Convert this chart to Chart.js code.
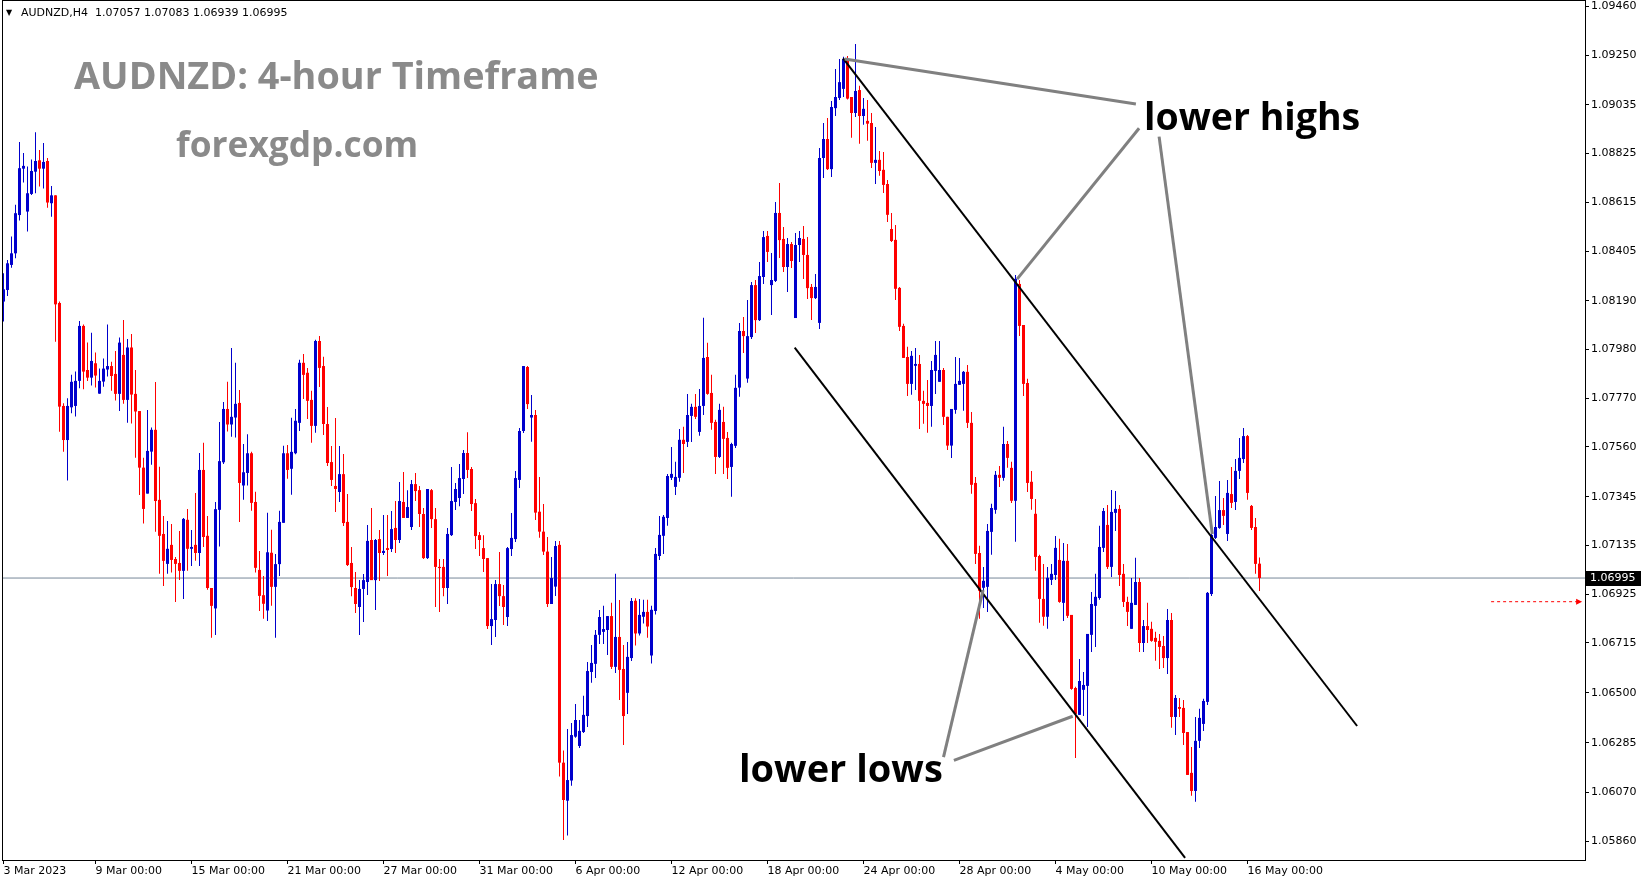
<!DOCTYPE html>
<html>
<head>
<meta charset="utf-8">
<script src="https://cdn.jsdelivr.net/npm/chart.js@4.4.0/dist/chart.umd.min.js"></script>
<style>
  html, body { margin: 0; padding: 0; background: #fff; }
</style>
</head>
<body>
<canvas id="priceChart" width="1649" height="884"></canvas>
<script>
// AUDNZD H4 candles (3 Mar 2023 .. 16 May 2023)
const opens = [
  1.08187,1.08237,1.08345,1.08395,1.08560,1.08760,1.08575,1.08651,1.08747,1.08796,
  1.08760,1.08793,1.08611,1.08645,1.08181,1.07737,1.07590,1.07731,1.07737,1.07845,
  1.08082,1.07892,1.07859,1.07921,1.07790,1.07842,1.07894,1.07909,1.07875,1.07789,
  1.07957,1.07763,1.07989,1.07789,1.07715,1.07471,1.07359,1.07540,1.07634,1.07332,
  1.07185,1.07056,1.07138,1.07077,1.07060,1.07026,1.07246,1.07121,1.07138,1.07103,
  1.07461,1.07177,1.06952,1.06864,1.07289,1.07494,1.07724,1.07657,1.07687,1.07750,
  1.07394,1.07448,1.07533,1.07323,1.07030,1.06921,1.06855,1.07104,1.06957,1.07055,
  1.07233,1.07533,1.07466,1.07533,1.07664,1.07923,1.07880,1.07763,1.07651,1.08017,
  1.07909,1.07659,1.07495,1.07392,1.07366,1.07443,1.07237,1.07060,1.06952,1.06870,
  1.06948,1.06978,1.07159,1.06986,1.07163,1.07103,1.07124,1.07120,1.07211,1.07159,
  1.07323,1.07254,1.07215,1.07400,1.07374,1.07271,1.07081,1.07374,1.07249,1.07043,
  1.07043,1.06952,1.07180,1.07323,1.07340,1.07422,1.07534,1.07465,1.07318,1.07180,
  1.07124,1.07081,1.06788,1.06814,1.06969,1.06917,1.06827,1.07120,1.07163,1.07418,
  1.07629,1.07905,1.07687,1.07698,1.07281,1.07195,1.07109,1.06883,1.06958,1.07138,
  1.06199,1.06035,1.06122,1.06311,1.06271,1.06331,1.06400,1.06590,1.06625,1.06750,
  1.06763,1.06771,1.06831,1.06612,1.06741,1.06603,1.06500,1.06650,1.06897,1.06756,
  1.06828,1.06849,1.06661,1.06853,1.07090,1.07177,1.07254,1.07427,1.07388,1.07427,
  1.07591,1.07582,1.07694,1.07733,1.07625,1.07737,1.07948,1.07793,1.07668,1.07517,
  1.07668,1.07599,1.07474,1.07565,1.07816,1.08060,1.07855,1.08034,1.08258,1.08107,
  1.08293,1.08470,1.08258,1.08276,1.08569,1.08457,1.08336,1.08435,1.08116,1.08431,
  1.08457,1.08388,1.08250,1.08202,1.08095,1.08806,1.08888,1.08758,1.09021,1.09065,
  1.09104,1.09229,1.09069,1.09000,1.09099,1.08987,1.08966,1.08957,1.08785,1.08798,
  1.08755,1.08694,1.08500,1.08453,1.08246,1.08082,1.07948,1.07832,1.07910,1.07918,
  1.07759,1.07750,1.07737,1.07888,1.07841,1.07892,1.07690,1.07566,1.07720,1.07828,
  1.07832,1.07884,1.07664,1.07405,1.07103,1.06953,1.06957,1.07194,1.07289,1.07440,
  1.07427,1.07573,1.07470,1.07328,1.08263,1.08086,1.07836,1.07410,1.07272,1.07090,
  1.06905,1.06828,1.06987,1.07008,1.07073,1.06888,1.07069,1.06836,1.06521,1.06405,
  1.06513,1.06530,1.06750,1.06875,1.06909,1.07125,1.07224,1.07043,1.07276,1.07293,
  1.07013,1.06892,1.06776,1.06879,1.06978,1.06715,1.06788,1.06776,1.06737,1.06724,
  1.06702,1.06650,1.06814,1.06396,1.06439,1.06435,1.06331,1.06155,1.06077,1.06293,
  1.06366,1.06461,1.06926,1.07168,1.07211,1.07288,1.07185,1.07357,1.07323,1.07457,
  1.07508,1.07607,1.07306,1.07215,1.07057
];
const highs = [
  1.08309,1.08366,1.08467,1.08604,1.08875,1.08828,1.08769,1.08800,1.08917,1.08841,
  1.08871,1.08806,1.08685,1.08645,1.08187,1.07749,1.07770,1.07871,1.07885,1.08103,
  1.08088,1.08010,1.08053,1.07967,1.07898,1.07941,1.08088,1.07927,1.07974,1.08032,
  1.08108,1.08026,1.08047,1.07892,1.07715,1.07514,1.07720,1.07644,1.07840,1.07475,
  1.07263,1.07241,1.07228,1.07086,1.07198,1.07254,1.07293,1.07202,1.07362,1.07534,
  1.07578,1.07263,1.06952,1.07323,1.07668,1.07754,1.07841,1.07987,1.07923,1.07806,
  1.07573,1.07615,1.07539,1.07367,1.07112,1.07004,1.07276,1.07203,1.07099,1.07285,
  1.07565,1.07569,1.07686,1.07724,1.07936,1.07961,1.07901,1.07802,1.08022,1.08039,
  1.07949,1.07732,1.07564,1.07685,1.07564,1.07530,1.07357,1.07129,1.07021,1.06986,
  1.07012,1.07224,1.07297,1.07163,1.07202,1.07267,1.07267,1.07284,1.07327,1.07409,
  1.07452,1.07374,1.07418,1.07448,1.07392,1.07297,1.07379,1.07379,1.07297,1.07077,
  1.07077,1.07211,1.07474,1.07405,1.07487,1.07547,1.07624,1.07474,1.07336,1.07193,
  1.07180,1.07081,1.06969,1.06986,1.07107,1.06965,1.07129,1.07275,1.07456,1.07642,
  1.07909,1.07909,1.07784,1.07720,1.07431,1.07314,1.07172,1.07086,1.07155,1.07155,
  1.06251,1.06344,1.06370,1.06452,1.06383,1.06487,1.06633,1.06706,1.06771,1.06857,
  1.06875,1.06831,1.06888,1.07013,1.06900,1.06706,1.06719,1.06909,1.06908,1.06905,
  1.06901,1.06901,1.06875,1.07125,1.07263,1.07267,1.07444,1.07560,1.07496,1.07638,
  1.07647,1.07789,1.07746,1.07789,1.07810,1.08117,1.08009,1.07871,1.07677,1.07746,
  1.07733,1.07625,1.07578,1.07871,1.08095,1.08120,1.08194,1.08271,1.08280,1.08358,
  1.08491,1.08491,1.08396,1.08616,1.08698,1.08508,1.08461,1.08444,1.08483,1.08491,
  1.08513,1.08465,1.08263,1.08306,1.08849,1.08957,1.08978,1.09052,1.09190,1.09233,
  1.09242,1.09246,1.09069,1.09298,1.09117,1.09065,1.09056,1.09000,1.08940,1.08836,
  1.08832,1.08711,1.08569,1.08517,1.08250,1.08091,1.07992,1.07974,1.07987,1.07957,
  1.07802,1.07849,1.07931,1.08017,1.08017,1.07901,1.07690,1.07724,1.07948,1.07944,
  1.07888,1.07914,1.07711,1.07431,1.07134,1.07043,1.07228,1.07315,1.07457,1.07478,
  1.07647,1.07586,1.07496,1.08302,1.08280,1.08086,1.07854,1.07457,1.07336,1.07095,
  1.07056,1.07043,1.07056,1.07176,1.07164,1.07146,1.07142,1.06836,1.06526,1.06646,
  1.06590,1.06754,1.06935,1.07013,1.07220,1.07297,1.07310,1.07375,1.07370,1.07310,
  1.07056,1.06914,1.06995,1.07082,1.06995,1.06814,1.06888,1.06806,1.06763,1.06754,
  1.06745,1.06862,1.06844,1.06491,1.06478,1.06469,1.06331,1.06267,1.06396,1.06431,
  1.06474,1.06935,1.07219,1.07349,1.07413,1.07340,1.07418,1.07474,1.07508,1.07599,
  1.07642,1.07612,1.07310,1.07254,1.07083
];
const lows = [
  1.08101,1.08211,1.08333,1.08374,1.08536,1.08700,1.08489,1.08647,1.08654,1.08683,
  1.08674,1.08592,1.08553,1.08014,1.07626,1.07540,1.07415,1.07705,1.07691,1.07813,
  1.07809,1.07845,1.07825,1.07816,1.07790,1.07820,1.07864,1.07803,1.07760,1.07715,
  1.07746,1.07664,1.07661,1.07514,1.07353,1.07230,1.07359,1.07483,1.07195,1.07013,
  1.06961,1.07013,1.07019,1.06892,1.06987,1.06905,1.07026,1.07047,1.07069,1.07047,
  1.07129,1.06944,1.06737,1.06749,1.07131,1.07487,1.07627,1.07604,1.07601,1.07237,
  1.07332,1.07394,1.07285,1.07019,1.06853,1.06819,1.06810,1.06875,1.06737,1.07004,
  1.07233,1.07423,1.07354,1.07529,1.07629,1.07767,1.07681,1.07578,1.07621,1.07819,
  1.07612,1.07478,1.07392,1.07280,1.07323,1.07219,1.07047,1.06917,1.06844,1.06749,
  1.06805,1.06922,1.06986,1.06857,1.06982,1.07094,1.07004,1.07107,1.07103,1.07146,
  1.07254,1.07254,1.07202,1.07327,1.07215,1.07077,1.07077,1.07211,1.06870,1.06849,
  1.06917,1.06883,1.07176,1.07288,1.07305,1.07357,1.07426,1.07284,1.07120,1.07090,
  1.07021,1.06775,1.06706,1.06741,1.06874,1.06792,1.06788,1.07090,1.07150,1.07383,
  1.07620,1.07724,1.07583,1.07245,1.07169,1.07094,1.06870,1.06883,1.06918,1.06139,
  1.05866,1.05885,1.06099,1.06306,1.06262,1.06327,1.06353,1.06543,1.06564,1.06711,
  1.06711,1.06663,1.06603,1.06586,1.06469,1.06275,1.06409,1.06637,1.06704,1.06747,
  1.06799,1.06738,1.06626,1.06838,1.07073,1.07099,1.07220,1.07418,1.07353,1.07410,
  1.07448,1.07560,1.07582,1.07681,1.07608,1.07698,1.07785,1.07634,1.07444,1.07513,
  1.07444,1.07422,1.07345,1.07556,1.07777,1.07965,1.07837,1.08026,1.08051,1.08103,
  1.08263,1.08358,1.08129,1.08271,1.08375,1.08314,1.08228,1.08332,1.08116,1.08358,
  1.08284,1.08198,1.08107,1.08198,1.08069,1.08720,1.08754,1.08724,1.08987,1.09056,
  1.09069,1.09058,1.08893,1.08983,1.08867,1.08949,1.08880,1.08763,1.08694,1.08729,
  1.08655,1.08530,1.08444,1.08194,1.08060,1.07944,1.07780,1.07785,1.07806,1.07638,
  1.07660,1.07621,1.07647,1.07789,1.07841,1.07655,1.07547,1.07512,1.07703,1.07828,
  1.07716,1.07642,1.07358,1.07056,1.06819,1.06866,1.06849,1.07095,1.07272,1.07388,
  1.07414,1.07470,1.07319,1.07151,1.08039,1.07780,1.07366,1.07289,1.07026,1.06802,
  1.06789,1.06776,1.06965,1.06987,1.06888,1.06810,1.06823,1.06513,1.06219,1.06405,
  1.06400,1.06353,1.06676,1.06698,1.06901,1.07107,1.07034,1.07000,1.07198,1.06961,
  1.06870,1.06788,1.06776,1.06879,1.06676,1.06676,1.06715,1.06720,1.06638,1.06603,
  1.06607,1.06581,1.06349,1.06318,1.06396,1.06275,1.06146,1.06056,1.06030,1.06262,
  1.06336,1.06448,1.06918,1.07163,1.07207,1.07224,1.07155,1.07297,1.07288,1.07422,
  1.07491,1.07332,1.07202,1.07013,1.06939
];
const closes = [
  1.08240,1.08352,1.08395,1.08568,1.08762,1.08772,1.08654,1.08750,1.08793,1.08760,
  1.08789,1.08614,1.08645,1.08175,1.07734,1.07590,1.07737,1.07841,1.07845,1.08082,
  1.07885,1.07859,1.07931,1.07868,1.07845,1.07898,1.07909,1.07866,1.07789,1.08010,
  1.07763,1.07989,1.07786,1.07713,1.07471,1.07293,1.07543,1.07634,1.07327,1.07177,
  1.07069,1.07121,1.07073,1.07056,1.07026,1.07250,1.07121,1.07129,1.07103,1.07461,
  1.07172,1.06952,1.06875,1.07292,1.07499,1.07724,1.07657,1.07690,1.07746,1.07405,
  1.07451,1.07533,1.07319,1.07039,1.06918,1.06884,1.07106,1.06957,1.07055,1.07237,
  1.07533,1.07461,1.07539,1.07673,1.07923,1.07871,1.07759,1.07651,1.08017,1.07901,
  1.07659,1.07491,1.07418,1.07379,1.07443,1.07232,1.07051,1.06956,1.06883,1.06948,
  1.06986,1.07155,1.06986,1.07159,1.07103,1.07112,1.07116,1.07206,1.07159,1.07327,
  1.07254,1.07301,1.07400,1.07370,1.07271,1.07081,1.07379,1.07249,1.07043,1.07038,
  1.06952,1.07185,1.07327,1.07379,1.07426,1.07534,1.07461,1.07314,1.07176,1.07159,
  1.07077,1.06788,1.06818,1.06969,1.06917,1.06870,1.07124,1.07168,1.07426,1.07629,
  1.07909,1.07745,1.07698,1.07277,1.07195,1.07109,1.06883,1.06995,1.07133,1.06199,
  1.06038,1.06124,1.06318,1.06383,1.06336,1.06405,1.06594,1.06629,1.06750,1.06827,
  1.06775,1.06831,1.06612,1.06741,1.06599,1.06400,1.06655,1.06896,1.06756,1.06836,
  1.06849,1.06786,1.06858,1.07099,1.07181,1.07259,1.07435,1.07444,1.07431,1.07591,
  1.07573,1.07698,1.07733,1.07690,1.07737,1.07944,1.07789,1.07664,1.07517,1.07720,
  1.07595,1.07470,1.07573,1.07815,1.08060,1.08038,1.08038,1.08258,1.08107,1.08297,
  1.08465,1.08401,1.08280,1.08569,1.08452,1.08336,1.08435,1.08362,1.08431,1.08461,
  1.08388,1.08245,1.08202,1.08250,1.08806,1.08888,1.08758,1.09026,1.09069,1.09133,
  1.09233,1.09062,1.09000,1.09095,1.08987,1.09018,1.08954,1.08785,1.08798,1.08750,
  1.08690,1.08561,1.08448,1.08242,1.08078,1.07944,1.07832,1.07953,1.07918,1.07759,
  1.07746,1.07737,1.07892,1.07957,1.07892,1.07690,1.07566,1.07724,1.07832,1.07845,
  1.07884,1.07664,1.07397,1.07099,1.06940,1.06983,1.07198,1.07297,1.07440,1.07427,
  1.07573,1.07513,1.07328,1.08285,1.08082,1.07832,1.07405,1.07336,1.07086,1.06905,
  1.06828,1.06996,1.07013,1.07125,1.06892,1.07069,1.06832,1.06517,1.06409,1.06551,
  1.06534,1.06754,1.06883,1.06914,1.07129,1.07284,1.07043,1.07280,1.07293,1.07008,
  1.06892,1.06849,1.06888,1.06978,1.06715,1.06788,1.06771,1.06724,1.06720,1.06698,
  1.06650,1.06814,1.06396,1.06478,1.06431,1.06327,1.06146,1.06077,1.06293,1.06392,
  1.06465,1.06931,1.07181,1.07215,1.07288,1.07263,1.07362,1.07319,1.07457,1.07513,
  1.07607,1.07362,1.07211,1.07056,1.06995
];

// axis labels
const priceTicks = [1.09460, 1.09250, 1.09035, 1.08825, 1.08615, 1.08405, 1.08190, 1.07980, 1.07770,
  1.07560, 1.07345, 1.07135, 1.06925, 1.06715, 1.06500, 1.06285, 1.06070, 1.05860];
const dateTickBars = [0, 23, 47, 71, 95, 119, 143, 167, 191, 215, 239, 263, 287, 311];
const dateTickLabels = ["3 Mar 2023", "9 Mar 00:00", "15 Mar 00:00", "21 Mar 00:00", "27 Mar 00:00",
  "31 Mar 00:00", "6 Apr 00:00", "12 Apr 00:00", "18 Apr 00:00", "24 Apr 00:00", "28 Apr 00:00",
  "4 May 00:00", "10 May 00:00", "16 May 00:00"];
const lastPrice = 1.06995;

// drawn lines: [bar index, price] pairs
const upperChannel = [[209.9, 1.09236], [338.4, 1.06357]];
const lowerChannel = [[197.8, 1.07988], [295.4, 1.05788]];
const highPointers = [
  [[210.3, 1.09233], [283.1, 1.09039]],
  [[253.4, 1.08284], [283.9, 1.08934]],
  [[288.9, 1.08898], [302.2, 1.07185]]
];
const lowPointers = [
  [[244.9, 1.06943], [235.0, 1.06223]],
  [[237.6, 1.06209], [267.3, 1.06399]]
];
const alertLine = [[371.9, 1.06893], [394.4, 1.06893]];

const xMin = -0.375, xMax = 395.375;
const yMin = 1.057793, yMax = 1.094829;

const BULL = '#0000cc', BEAR = '#ff0000';
const candleColors = closes.map((c, i) => c >= opens[i] ? BULL : BEAR);
const axisFont = { family: 'DejaVu Sans', size: 11 };

const toXY = pts => pts.map(p => ({ x: p[0], y: p[1] }));
const lineSet = (pts, color, width, extra) => Object.assign({
  type: 'line', data: toXY(pts), borderColor: color, borderWidth: width,
  pointRadius: 0, tension: 0, order: 0
}, extra || {});

// keep the plot area fixed: no extra room for overflowing tick labels
const noPad = s => { s.paddingTop = 0; s.paddingBottom = 0; s.paddingLeft = 0; s.paddingRight = 0; };

const overlayPlugin = {
  id: 'overlay',
  afterDraw(chart) {
    const { ctx, chartArea: a, scales: { x, y } } = chart;
    ctx.save();
    // frame
    ctx.strokeStyle = '#000';
    ctx.lineWidth = 1;
    ctx.strokeRect(a.left + 0.5, a.top - 0.5, a.right - a.left, a.bottom - a.top + 1);

    // header
    ctx.fillStyle = '#000';
    ctx.textBaseline = 'middle';
    ctx.textAlign = 'left';
    ctx.font = '8px "DejaVu Sans"';
    ctx.fillText('\u25BC', 6, 13);
    ctx.font = '11px "DejaVu Sans"';
    ctx.fillText('AUDNZD,H4  1.07057 1.07083 1.06939 1.06995', 21, 13);

    // current price box
    const py = Math.round(y.getPixelForValue(lastPrice));
    ctx.fillStyle = '#000';
    ctx.fillRect(a.right + 1, py - 7, 55, 15);
    ctx.fillStyle = '#fff';
    ctx.font = '11px "DejaVu Sans"';
    ctx.fillText(lastPrice.toFixed(5), a.right + 5, py + 0.5);

    // alert arrow head
    const ax = x.getPixelForValue(alertLine[1][0]);
    const ay = y.getPixelForValue(alertLine[1][1]);
    ctx.fillStyle = '#ff0000';
    ctx.beginPath();
    ctx.moveTo(ax + 1, ay);
    ctx.lineTo(ax - 5, ay - 3);
    ctx.lineTo(ax - 5, ay + 3);
    ctx.closePath();
    ctx.fill();

    // annotations
    const fitText = (text, family, weight, targetW) => {
      ctx.font = `${weight} 40px "${family}"`;
      const size = 40 * targetW / ctx.measureText(text).width;
      ctx.font = `${weight} ${size.toFixed(1)}px "${family}"`;
    };
    ctx.fillStyle = '#8a8a8a';
    fitText('AUDNZD: 4-hour Timeframe', 'Open Sans', 700, 524);
    ctx.fillText('AUDNZD: 4-hour Timeframe', 74, 78);
    fitText('forexgdp.com', 'Open Sans', 700, 242);
    ctx.fillText('forexgdp.com', 176, 147);
    ctx.fillStyle = '#000';
    fitText('lower highs', 'Open Sans', 700, 216);
    ctx.fillText('lower highs', 1144, 119);
    fitText('lower lows', 'Open Sans', 700, 204);
    ctx.fillText('lower lows', 739, 771);
    ctx.restore();
  }
};

const ctx = document.getElementById('priceChart').getContext('2d');
const priceChart = new Chart(ctx, {
  type: 'bar',
  data: {
    datasets: [
      ...highPointers.map(p => lineSet(p, '#808080', 3)),
      ...lowPointers.map(p => lineSet(p, '#808080', 3)),
      lineSet(upperChannel, '#000000', 2),
      lineSet(lowerChannel, '#000000', 2),
      {
        type: 'bar', label: 'bodies',
        data: opens.map((o, i) => ({ x: i, y: [o, closes[i]] })),
        backgroundColor: candleColors, barThickness: 3, grouped: false,
        minBarLength: 1, inflateAmount: 0, borderWidth: 0, order: 1
      },
      {
        type: 'bar', label: 'wicks',
        data: lows.map((l, i) => ({ x: i, y: [l, highs[i]] })),
        backgroundColor: candleColors, barThickness: 1, grouped: false,
        minBarLength: 1, inflateAmount: 0, borderWidth: 0, order: 2
      },
      lineSet(alertLine, '#ff0000', 1, { borderDash: [3, 3], order: 3 }),
      lineSet([[xMin, lastPrice], [xMax, lastPrice]], '#778899', 1, { order: 4 })
    ]
  },
  options: {
    responsive: false,
    animation: false,
    devicePixelRatio: 1,
    layout: { padding: { left: 2, top: 1, right: 0, bottom: 0 } },
    plugins: { legend: { display: false }, tooltip: { enabled: false } },
    scales: {
      x: {
        type: 'linear', offset: false, min: xMin, max: xMax,
        afterBuildTicks: s => { s.ticks = dateTickBars.map(v => ({ value: v })); },
        afterFit: s => { s.height = 24; noPad(s); },
        ticks: {
          autoSkip: false, maxRotation: 0, align: 'start', padding: 1,
          color: '#000', font: axisFont,
          callback: (v, i) => dateTickLabels[i]
        },
        grid: { drawOnChartArea: false, drawTicks: true, tickLength: 4, color: '#000', offset: false },
        border: { display: false }
      },
      y: {
        position: 'right', min: yMin, max: yMax,
        afterBuildTicks: s => { s.ticks = priceTicks.map(v => ({ value: v })); },
        afterFit: s => { s.width = 64; noPad(s); },
        ticks: {
          autoSkip: false, padding: 2, color: '#000', font: axisFont,
          callback: v => v.toFixed(5)
        },
        grid: { drawOnChartArea: false, drawTicks: true, tickLength: 4, color: '#000' },
        border: { display: false }
      }
    }
  },
  plugins: [overlayPlugin]
});
</script>
</body>
</html>
